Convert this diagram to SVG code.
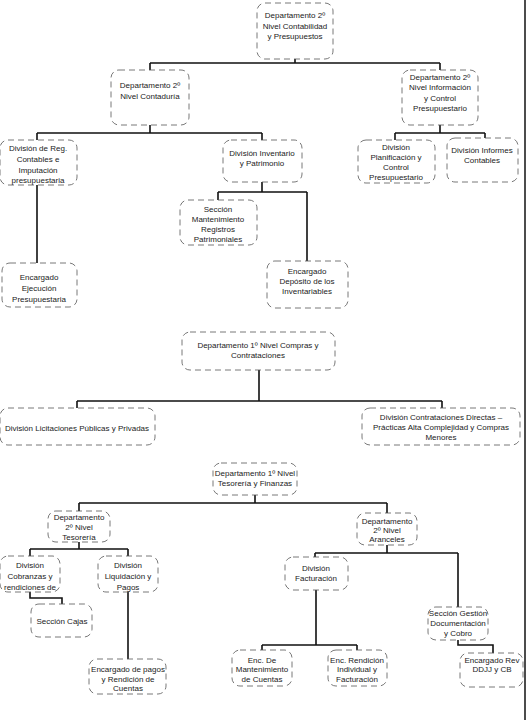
<svg xmlns="http://www.w3.org/2000/svg" width="527" height="720" viewBox="0 0 527 720">
<style>
.b{fill:#fff;stroke:#555;stroke-width:0.8;stroke-dasharray:6 4}
.t{font-family:"Liberation Sans",Arial,sans-serif;font-size:8px;fill:#222;text-anchor:middle}
.c{fill:none;stroke:#111;stroke-width:1.6}
</style>
<rect width="527" height="720" fill="#fff"/>
<line x1="525" y1="0" x2="525" y2="720" stroke="#111" stroke-width="1.5"/>
<g id="connectors">
<path class="c" d="M295 59V63M150 63H440M150 63V70M440 63V70"/>
<path class="c" d="M150 125V133M37 133H262M37 133V140M262 133V140"/>
<path class="c" d="M37 185V263"/>
<path class="c" d="M262 182V192M218 192H307M218 192V200M307 192V261"/>
<path class="c" d="M440 125V133M395 133H485M395 133V140M485 133V138"/>
<path class="c" d="M259 370V401M77 401H442M77 401V408M442 401V408"/>
<path class="c" d="M255 495V503M79 503H387M79 503V511M387 503V513"/>
<path class="c" d="M79 542V549M30 549H128M30 549V556M128 549V556"/>
<path class="c" d="M30 592V598H62V604"/>
<path class="c" d="M128 592V659"/>
<path class="c" d="M387 545V553M315 553H458M315 553V557M458 553V607"/>
<path class="c" d="M458 640V645H493V653"/>
<path class="c" d="M316 590V645M262 645H357M262 645V650M357 645V650"/>
</g>
<g id="n1"><rect class="b" x="257" y="3" width="76" height="56" rx="8"/><text class="t" x="295" y="18">Departamento 2º</text><text class="t" x="295" y="29">Nivel Contabilidad</text><text class="t" x="295" y="39">y Presupuestos</text></g>
<g id="n2"><rect class="b" x="111" y="70" width="78" height="55" rx="8"/><text class="t" x="150" y="88">Departamento 2º</text><text class="t" x="150" y="99">Nivel Contaduría</text></g>
<g id="n3"><rect class="b" x="402" y="70" width="76" height="55" rx="8"/><text class="t" x="440" y="80">Departamento 2º</text><text class="t" x="440" y="90">Nivel Información</text><text class="t" x="440" y="101">y Control</text><text class="t" x="440" y="111">Presupuestario</text></g>
<g id="n4"><rect class="b" x="0" y="140" width="77" height="45" rx="8"/><text class="t" x="38" y="151">División de Reg.</text><text class="t" x="38" y="162">Contables e</text><text class="t" x="38" y="173">Imputación</text><text class="t" x="38" y="183">presupuestaria</text></g>
<g id="n5"><rect class="b" x="2" y="263" width="75" height="44" rx="8"/><text class="t" x="39" y="280">Encargado</text><text class="t" x="39" y="291">Ejecución</text><text class="t" x="39" y="302">Presupuestaria</text></g>
<g id="n6"><rect class="b" x="223" y="140" width="79" height="42" rx="8"/><text class="t" x="262" y="156">División Inventario</text><text class="t" x="262" y="166">y Patrimonio</text></g>
<g id="n7"><rect class="b" x="180" y="200" width="77" height="45" rx="8"/><text class="t" x="218" y="212">Sección</text><text class="t" x="218" y="222">Mantenimiento</text><text class="t" x="218" y="232">Registros</text><text class="t" x="218" y="242">Patrimoniales</text></g>
<g id="n8"><rect class="b" x="267" y="261" width="81" height="47" rx="8"/><text class="t" x="307" y="274">Encargado</text><text class="t" x="307" y="284">Depósito de los</text><text class="t" x="307" y="294">Inventariables</text></g>
<g id="n9"><rect class="b" x="358" y="140" width="77" height="43" rx="8"/><text class="t" x="396" y="150">División</text><text class="t" x="396" y="160">Planificación y</text><text class="t" x="396" y="170">Control</text><text class="t" x="396" y="180">Presupuestario</text></g>
<g id="n10"><rect class="b" x="447" y="138" width="71" height="44" rx="8"/><text class="t" x="482" y="153">División Informes</text><text class="t" x="482" y="163">Contables</text></g>
<g id="n11"><rect class="b" x="182" y="332" width="153" height="38" rx="8"/><text class="t" x="258" y="348">Departamento 1º Nivel Compras y</text><text class="t" x="258" y="358">Contrataciones</text></g>
<g id="n12"><rect class="b" x="0" y="408" width="155" height="37" rx="8"/><text class="t" x="77" y="431">División Licitaciones Públicas y Privadas</text></g>
<g id="n13"><rect class="b" x="362" y="408" width="158" height="37" rx="8"/><text class="t" x="441" y="420">División Contrataciones Directas –</text><text class="t" x="441" y="430">Prácticas Alta Complejidad y Compras</text><text class="t" x="441" y="440">Menores</text></g>
<g id="n14"><rect class="b" x="213" y="463" width="84" height="32" rx="8"/><text class="t" x="255" y="476">Departamento 1º Nivel</text><text class="t" x="255" y="486">Tesorería y Finanzas</text></g>
<g id="n15"><rect class="b" x="48" y="511" width="62" height="31" rx="8"/><text class="t" x="79" y="520">Departamento</text><text class="t" x="79" y="530">2º Nivel</text><text class="t" x="79" y="540">Tesorería</text></g>
<g id="n16"><rect class="b" x="0" y="556" width="60" height="36" rx="8"/><text class="t" x="30" y="568">División</text><text class="t" x="30" y="579">Cobranzas y</text><text class="t" x="30" y="590">rendiciones de</text></g>
<g id="n17"><rect class="b" x="98" y="556" width="60" height="36" rx="8"/><text class="t" x="128" y="568">División</text><text class="t" x="128" y="579">Liquidación y</text><text class="t" x="128" y="590">Pagos</text></g>
<g id="n18"><rect class="b" x="31" y="604" width="61" height="33" rx="8"/><text class="t" x="62" y="624">Sección Cajas</text></g>
<g id="n19"><rect class="b" x="89" y="659" width="77" height="35" rx="8"/><text class="t" x="128" y="672">Encargado de pagos</text><text class="t" x="128" y="682">y Rendición de</text><text class="t" x="128" y="691">Cuentas</text></g>
<g id="n20"><rect class="b" x="357" y="513" width="60" height="32" rx="8"/><text class="t" x="387" y="524">Departamento</text><text class="t" x="387" y="533">2º Nivel</text><text class="t" x="387" y="542">Aranceles</text></g>
<g id="n21"><rect class="b" x="285" y="557" width="63" height="33" rx="8"/><text class="t" x="316" y="571">División</text><text class="t" x="316" y="581">Facturación</text></g>
<g id="n22"><rect class="b" x="428" y="607" width="60" height="33" rx="8"/><text class="t" x="458" y="616">Sección Gestión</text><text class="t" x="458" y="626">Documentación</text><text class="t" x="458" y="636">y Cobro</text></g>
<g id="n23"><rect class="b" x="460" y="653" width="63" height="34" rx="8"/><text class="t" x="492" y="663">Encargado Rev</text><text class="t" x="492" y="672">DDJJ y CB</text></g>
<g id="n24"><rect class="b" x="232" y="650" width="60" height="36" rx="8"/><text class="t" x="262" y="663">Enc. De</text><text class="t" x="262" y="672">Mantenimiento</text><text class="t" x="262" y="682">de Cuentas</text></g>
<g id="n25"><rect class="b" x="328" y="650" width="59" height="36" rx="8"/><text class="t" x="357" y="663">Enc. Rendición</text><text class="t" x="357" y="672">Individual y</text><text class="t" x="357" y="682">Facturación</text></g>
</svg>
